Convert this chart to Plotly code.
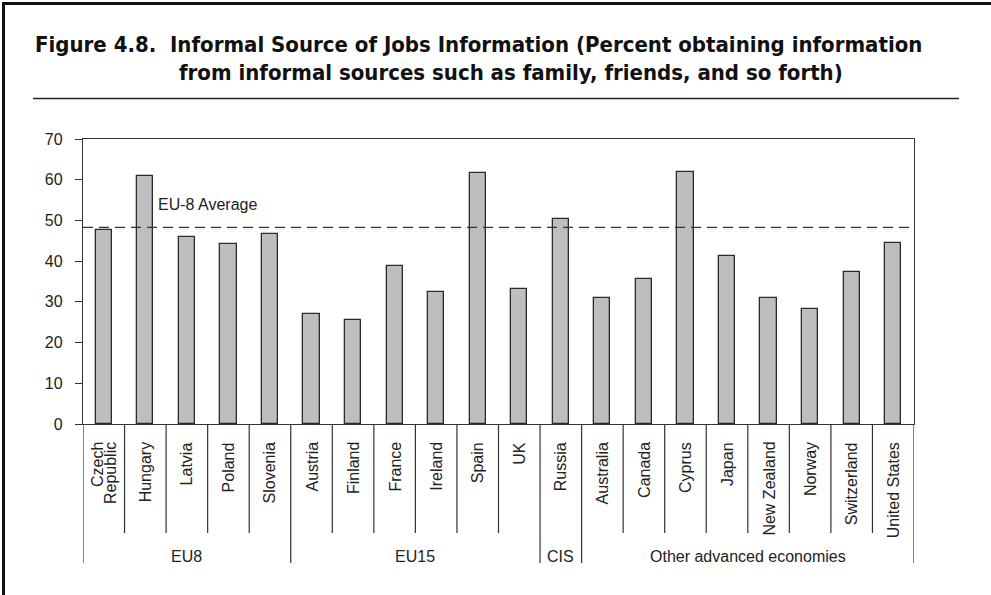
import plotly.graph_objects as go

countries = ["Czech<br>Republic", "Hungary", "Latvia", "Poland", "Slovenia",
             "Austria", "Finland", "France", "Ireland", "Spain", "UK",
             "Russia",
             "Australia", "Canada", "Cyprus", "Japan", "New Zealand", "Norway",
             "Switzerland", "United States"]
values = [47.6, 61.0, 46.0, 44.2, 46.7,
          27.0, 25.6, 38.9, 32.3, 61.7, 33.2,
          50.3,
          30.9, 35.7, 61.9, 41.3, 31.0, 28.3, 37.3, 44.4]
groups = ["EU8", "EU15", "CIS", "Other advanced economies"]
group_sizes = [5, 6, 1, 8]
eu8_average = 48.3
y_ticks = [0, 10, 20, 30, 40, 50, 60, 70]

W, H = 991, 595
L, R, T, B = 83, 914, 139, 424
pw, ph = R - L, B - T


def px_x(px):
    return (px - L) / pw


def px_y(py):
    return (B - py) / ph


n = len(countries)
xs = list(range(n))
label_font = dict(family="Liberation Sans, Arial", size=16, color="#222")

fig = go.Figure()
fig.add_trace(go.Bar(
    x=xs, y=values, width=0.39,
    marker=dict(color="#bdbec0", line=dict(color="#2a2a2a", width=1.3)),
    hoverinfo="skip", showlegend=False,
))

shapes = []
annotations = []

# dashed EU-8 average line
shapes.append(dict(type="line", xref="paper", yref="y", x0=0, x1=px_x(912),
                   y0=eu8_average, y1=eu8_average,
                   line=dict(color="#333333", width=1.3, dash="10px,6px")))
annotations.append(dict(xref="paper", yref="y", x=px_x(156), y=53.8,
                        text="EU-8 Average", showarrow=False, xanchor="left",
                        yanchor="middle", font=label_font))

# category labels (multi-line labels set with tight line spacing)
line_gap = 12.5
for i, c in enumerate(countries):
    parts = c.split("<br>")
    m = len(parts)
    for j, p in enumerate(parts):
        off = (j - (m - 1) / 2) * line_gap
        annotations.append(dict(xref="x", yref="paper", x=i, y=0, yshift=-16,
                                xshift=off, text=p, showarrow=False, textangle=-90,
                                xanchor="center", yanchor="top", font=label_font))

# group boundaries and separators
boundaries = [0]
for s in group_sizes:
    boundaries.append(boundaries[-1] + s)
for k in range(n + 1):
    xpos = k - 0.5
    is_group = k in boundaries
    ybot = 563 if is_group else 533
    shapes.append(dict(type="line", xref="x", yref="paper", x0=xpos, x1=xpos,
                       y0=0, y1=px_y(ybot),
                       line=dict(color="#333333", width=1.2)))
for g, a, b in zip(groups, boundaries[:-1], boundaries[1:]):
    annotations.append(dict(xref="x", yref="paper", x=(a + b - 1) / 2, y=px_y(556),
                            text=g, showarrow=False, xanchor="center", yanchor="middle",
                            font=label_font))

# title
title_font = dict(family="DejaVu Sans Condensed, Liberation Sans",
                  size=22, color="#111")
annotations.append(dict(xref="paper", yref="paper", x=px_x(33), y=px_y(44),
                        text="<b>Figure 4.8.  Informal Source of Jobs Information (Percent obtaining information</b>",
                        showarrow=False, xanchor="left", yanchor="middle", font=title_font))
annotations.append(dict(xref="paper", yref="paper", x=px_x(177), y=px_y(73),
                        text="<b>from informal sources such as family, friends, and so forth)</b>",
                        showarrow=False, xanchor="left", yanchor="middle", font=title_font))
shapes.append(dict(type="line", xref="paper", yref="paper", x0=px_x(33), x1=px_x(959),
                   y0=px_y(98.5), y1=px_y(98.5), line=dict(color="#222", width=1.5)))

# outer border (left and top)
shapes.append(dict(type="line", xref="paper", yref="paper", x0=px_x(3.5), x1=px_x(3.5),
                   y0=px_y(2), y1=px_y(600), line=dict(color="#111", width=3)))
shapes.append(dict(type="line", xref="paper", yref="paper", x0=px_x(2), x1=px_x(995),
                   y0=px_y(3.5), y1=px_y(3.5), line=dict(color="#111", width=3)))

fig.update_layout(
    width=W, height=H,
    margin=dict(l=L, r=W - R, t=T, b=H - B, pad=0),
    paper_bgcolor="white", plot_bgcolor="white",
    shapes=shapes, annotations=annotations,
    showlegend=False,
    bargap=0,
)
fig.update_xaxes(range=[-0.5, n - 0.5], showticklabels=False, ticks="",
                 showgrid=False, zeroline=False, showline=True, linecolor="#333",
                 linewidth=1.3, mirror=True)
fig.update_yaxes(range=[0, 70], tickvals=y_ticks, ticks="outside", ticklen=7,
                 tickcolor="#333", tickwidth=1.2,
                 showgrid=False, zeroline=False, showline=True, linecolor="#333",
                 linewidth=1.3, mirror=True, ticklabelstandoff=9,
                 tickfont=label_font)

fig.write_html("out.html", config={"displayModeBar": False},
               post_script="document.body.style.margin='0';document.body.style.overflow='hidden';")
